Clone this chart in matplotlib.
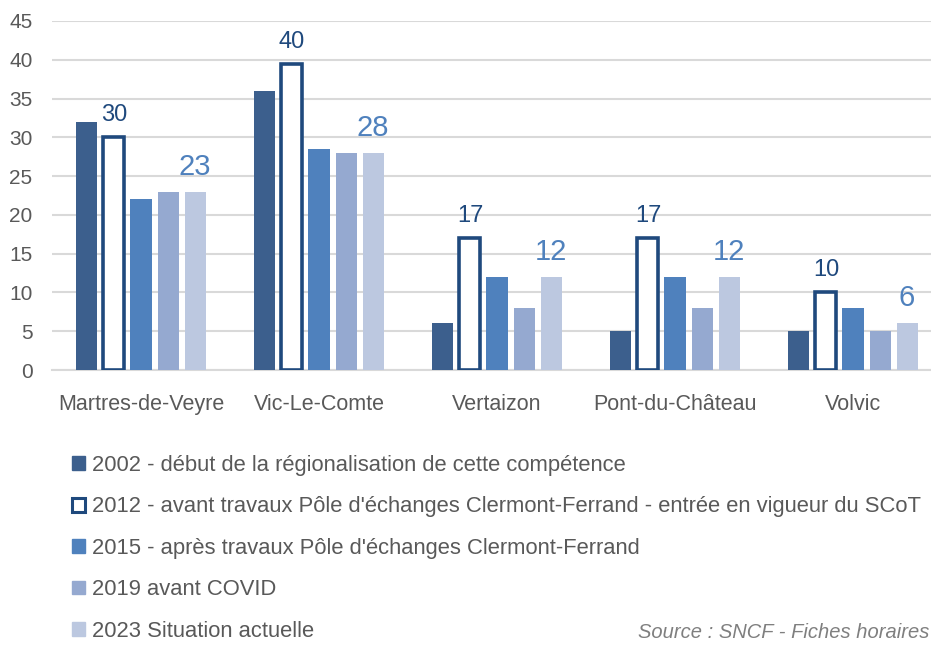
import matplotlib.pyplot as plt
import numpy as np
from matplotlib.patches import Patch

plt.rcParams['font.family'] = ['Liberation Sans', 'DejaVu Sans']

# data
gares = ['Martres-de-Veyre', 'Vic-Le-Comte', 'Vertaizon', 'Pont-du-Château', 'Volvic']
y2002 = [32, 36, 6, 5, 5]
y2012 = [30, 39.5, 17, 17, 10]
y2015 = [22, 28.5, 12, 12, 8]
y2019 = [23, 28, 8, 8, 5]
y2023 = [23, 28, 12, 12, 6]
series_labels = [
    "2002 - début de la régionalisation de cette compétence",
    "2012 - avant travaux Pôle d'échanges Clermont-Ferrand - entrée en vigueur du SCoT",
    "2015 - après travaux Pôle d'échanges Clermont-Ferrand",
    "2019 avant COVID",
    "2023 Situation actuelle",
]

c2002 = '#3c5f8d'
c2012 = '#1f497d'
c2015 = '#4f81bd'
c2019 = '#95a9d0'
c2023 = '#bcc8e0'
grey = '#595959'

fig = plt.figure(figsize=(9.31, 6.45), dpi=100)
ax = fig.add_axes([52 / 931, 1 - 370 / 645, 890 / 931, 349 / 645])

x = np.arange(len(gares))
pitch = 0.152
w = 0.118
ax.bar(x - 2 * pitch, y2002, w, color=c2002, zorder=3)
ax.bar(x - pitch, y2012, w, facecolor='white', edgecolor=c2012, linewidth=2.6, zorder=3)
ax.bar(x, y2015, w, color=c2015, zorder=3)
ax.bar(x + pitch, y2019, w, color=c2019, zorder=3)
ax.bar(x + 2 * pitch, y2023, w, color=c2023, zorder=3)

for xi, v in zip(x, y2012):
    ax.annotate('%.0f' % v, (xi - pitch, v), xytext=(0, 8), textcoords='offset points',
                ha='center', va='bottom', fontsize=17, color=c2012)
for xi, v in zip(x, y2023):
    ax.annotate('%.0f' % v, (xi + 2 * pitch, v), xytext=(0, 8), textcoords='offset points',
                ha='center', va='bottom', fontsize=21, color=c2015)

ax.set_xlim(-0.5, 4.5)
ax.set_ylim(0, 45)
ax.set_yticks(range(0, 46, 5))
ax.yaxis.grid(True, color='#d9d9d9', linewidth=1.5, zorder=0)
for s in ['top', 'right', 'left']:
    ax.spines[s].set_visible(False)
ax.spines['bottom'].set_color('#d9d9d9')
ax.spines['bottom'].set_linewidth(1.5)
ax.tick_params(length=0, labelcolor=grey)
ax.tick_params(axis='y', labelsize=15, pad=14)
ax.tick_params(axis='x', labelsize=15.5, pad=17)
ax.set_xticks(x)
ax.set_xticklabels(gares)

handles = [
    Patch(facecolor=c2002, edgecolor=c2002),
    Patch(facecolor='white', edgecolor=c2012, linewidth=2.2),
    Patch(facecolor=c2015, edgecolor=c2015),
    Patch(facecolor=c2019, edgecolor=c2019),
    Patch(facecolor=c2023, edgecolor=c2023),
]
leg = fig.legend(handles, series_labels, loc='upper left', bbox_to_anchor=(72 / 931, 1 - 455 / 645),
                 frameon=False, fontsize=15.8, handlelength=0.6, handleheight=0.6,
                 handletextpad=0.3, labelspacing=0.93, borderpad=0, borderaxespad=0)
for t in leg.get_texts():
    t.set_color(grey)

fig.text(929 / 931, 1 - 632 / 645, 'Source : SNCF - Fiches horaires', fontsize=14.5,
         style='italic', color='#7f7f7f', ha='right', va='center')

fig.savefig('out.png', dpi=100)
